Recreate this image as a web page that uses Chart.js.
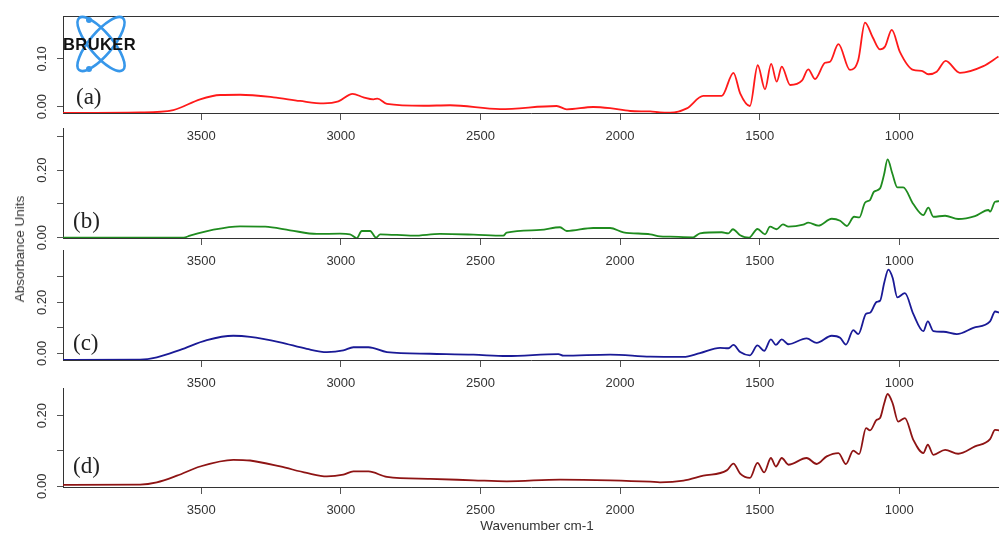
<!DOCTYPE html>
<html>
<head>
<meta charset="utf-8">
<script src="https://cdn.jsdelivr.net/npm/chart.js@4.4.0/dist/chart.umd.min.js"></script>
<style>
  body { margin: 0; background: #fff; width: 999px; height: 536px; overflow: hidden; position: relative;
         font-family: "Liberation Sans", Arial, sans-serif; }
  canvas { position: absolute; left: 0; }
  .tag { position: absolute; z-index: 5; font-family: "Liberation Serif", "Times New Roman", serif;
         font-size: 23px; line-height: 23px; color: #222; }
  .axtitle { position: absolute; z-index: 5; font-size: 13.5px; line-height: 14px; color: #333; white-space: nowrap; }
  #logo { position: absolute; left: 0; top: 0; z-index: 6; }
  #bruker { position: absolute; left: 63px; top: 36px; z-index: 7; font-weight: bold; font-size: 16.5px;
            line-height: 17px; color: #111; letter-spacing: 0.4px; }
</style>
</head>
<body>

<canvas id="panel-a" width="999" height="150" style="top:0px"></canvas>
<canvas id="panel-b" width="999" height="155" style="top:120px"></canvas>
<canvas id="panel-c" width="999" height="157" style="top:240px"></canvas>
<canvas id="panel-d" width="999" height="144" style="top:380px"></canvas>

<svg id="logo" width="140" height="80">
  <g fill="none" stroke="#3797ea" stroke-width="2.6">
    <ellipse cx="101" cy="44" rx="34" ry="11.5" transform="rotate(50 101 44)"/>
    <ellipse cx="101" cy="44" rx="34" ry="11.5" transform="rotate(-50 101 44)"/>
  </g>
  <circle cx="89" cy="20" r="3" fill="#3797ea"/>
  <circle cx="89" cy="69" r="3" fill="#3797ea"/>
</svg>
<div id="bruker">BRUKER</div>

<div class="tag" style="left:76px; top:85px">(a)</div>
<div class="tag" style="left:73px; top:209px">(b)</div>
<div class="tag" style="left:73px; top:331px">(c)</div>
<div class="tag" style="left:73px; top:454px">(d)</div>

<div class="axtitle" style="left:537px; top:519px; transform:translateX(-50%)">Wavenumber cm-1</div>
<div class="axtitle" style="left:20px; top:249px; transform:translate(-50%,-50%) rotate(-90deg)">Absorbance Units</div>

<script>
// wavenumber range shown (reversed axis, high on the left)
const wnMin = 643;
const wnMax = 3995;
const xTicks = [3500, 3000, 2500, 2000, 1500, 1000];

// y ticks per panel, and which of them get a label
const yTicksA = [0, 0.1];
const yTicksBCD = [0, 0.1, 0.2, 0.3];
const yLabelsA = [0, 0.1];
const yLabelsBCD = [0, 0.2];

// (a) red spectrum
const wnA = [4000, 3719, 3600, 3504, 3432, 3361, 3241, 3146, 3062, 3009, 2958, 2919, 2883, 2869, 2835, 2704,
             2609, 2430, 2227, 2191, 2096, 2036, 1964, 1892, 1857, 1821, 1761, 1702, 1636, 1594, 1570, 1535,
             1507, 1481, 1459, 1439, 1421, 1391, 1349, 1326, 1302, 1266, 1248, 1218, 1177, 1147, 1123, 1095,
             1069, 1051, 1027, 998, 950, 920, 896, 866, 834, 783, 699, 645];
const absA = [-0.013, -0.012, -0.007, 0.0155, 0.0245, 0.025, 0.0197, 0.012, 0.007, 0.011, 0.027, 0.0197, 0.0155, 0.017, 0.006, 0.002,
              0.003, -0.005, 0.0015, -0.0055, -0.0006, -0.003, -0.009, -0.01, -0.012, -0.0125, -0.0035, 0.0225, 0.0225, 0.071, 0.028, 0.0015,
              0.0868, 0.0365, 0.0895, 0.0524, 0.0839, 0.0455, 0.0545, 0.078, 0.058, 0.092, 0.0943, 0.131, 0.077, 0.098, 0.176, 0.145,
              0.12, 0.126, 0.161, 0.115, 0.077, 0.075, 0.068, 0.0734, 0.0958, 0.071, 0.085, 0.105];

// (b) green spectrum
const wnB = [4000, 3563, 3540, 3456, 3361, 3271, 3182, 3086, 3003, 2967, 2943, 2925, 2895, 2874, 2859, 2740,
             2645, 2525, 2418, 2406, 2286, 2215, 2191, 2096, 2036, 1988, 1892, 1857, 1821, 1738, 1714, 1636,
             1612, 1596, 1570, 1538, 1508, 1481, 1463, 1439, 1417, 1397, 1344, 1326, 1290, 1242, 1212, 1188,
             1162, 1143, 1123, 1105, 1091, 1069, 1055, 1042, 1025, 1007, 986, 950, 914, 896, 878, 836,
             789, 729, 681, 675, 657, 643];
const absB = [0, 0, 0.006, 0.0237, 0.0337, 0.0325, 0.0219, 0.011, 0.0118, 0.01, -0.0018, 0.0198, 0.0198, 0, 0.01, 0.006,
              0.011, 0.009, 0.006, 0.0148, 0.0228, 0.0308, 0.0198, 0.0287, 0.0287, 0.016, 0.01, 0.004, 0.003, 0.001, 0.013, 0.016,
              0.013, 0.025, 0.007, 0, 0.0257, 0.01, 0.0325, 0.025, 0.0396, 0.0325, 0.0385, 0.0444, 0.0355, 0.056, 0.05, 0.0346,
              0.062, 0.06, 0.1036, 0.1115, 0.136, 0.146, 0.1855, 0.232, 0.19, 0.149, 0.149, 0.0997, 0.067, 0.0888, 0.062, 0.065,
              0.0553, 0.064, 0.082, 0.077, 0.1065, 0.108];

// (c) blue spectrum
const wnC = [4000, 3719, 3659, 3575, 3480, 3385, 3325, 3217, 3122, 3050, 2991, 2955, 2901, 2835, 2680, 2525,
             2406, 2221, 2203, 2036, 1892, 1773, 1714, 1642, 1612, 1594, 1570, 1535, 1508, 1484, 1460, 1442,
             1421, 1397, 1332, 1296, 1242, 1212, 1191, 1165, 1147, 1119, 1105, 1081, 1069, 1054, 1039, 1024,
             1007, 980, 950, 914, 898, 878, 842, 794, 735, 675, 657, 643];
const absC = [-0.026, -0.0246, -0.0155, 0.014, 0.052, 0.069, 0.065, 0.0435, 0.0177, 0.005, 0.0115, 0.024, 0.024, 0.005, -0.0015, -0.005,
              -0.0104, -0.0027, -0.009, -0.005, -0.013, -0.014, 0.001, 0.0215, 0.02, 0.033, 0.005, -0.0077, 0.031, 0.01, 0.055, 0.033,
              0.055, 0.0358, 0.0588, 0.0408, 0.069, 0.0615, 0.0346, 0.091, 0.0754, 0.155, 0.159, 0.202, 0.206, 0.277, 0.328, 0.296,
              0.219, 0.236, 0.155, 0.087, 0.1254, 0.087, 0.0846, 0.0754, 0.1, 0.1254, 0.164, 0.16];

// (d) dark red spectrum
const wnD = [4000, 3719, 3659, 3587, 3504, 3385, 3325, 3217, 3122, 3050, 2991, 2955, 2901, 2835, 2680, 2525,
             2406, 2215, 2036, 1892, 1857, 1773, 1702, 1618, 1594, 1570, 1535, 1508, 1484, 1460, 1442, 1421,
             1397, 1332, 1296, 1260, 1218, 1191, 1165, 1144, 1119, 1105, 1081, 1069, 1054, 1042, 1024, 1004,
             980, 950, 914, 898, 878, 836, 789, 729, 675, 657, 643];
const absD = [0.004, 0.005, 0.0113, 0.03, 0.056, 0.075, 0.073, 0.056, 0.0377, 0.028, 0.033, 0.042, 0.042, 0.0265, 0.021, 0.017,
              0.014, 0.019, 0.017, 0.013, 0.0113, 0.016, 0.03, 0.045, 0.064, 0.036, 0.0236, 0.066, 0.0394, 0.08, 0.056, 0.08,
              0.061, 0.08, 0.063, 0.0845, 0.094, 0.063, 0.101, 0.091, 0.1645, 0.158, 0.188, 0.193, 0.235, 0.261, 0.235, 0.183,
              0.193, 0.1315, 0.094, 0.1175, 0.089, 0.103, 0.092, 0.113, 0.1335, 0.1595, 0.158];

const fontSans = '"Liberation Sans", Arial, sans-serif';

// R-style labels: rotated y tick labels, x labels under each panel, optional top frame line
const axisLabels = {
    id: 'axisLabels',
    afterDraw: function(chart, args, opts) {
        const ctx = chart.ctx;
        const xs = chart.scales.x;
        const ys = chart.scales.y;
        const area = chart.chartArea;
        ctx.save();
        ctx.font = '13px ' + fontSans;
        ctx.fillStyle = '#333';
        ctx.textAlign = 'center';
        ctx.textBaseline = 'middle';
        opts.yLabels.forEach(v => {
            const py = ys.getPixelForValue(v);
            ctx.save();
            ctx.translate(42, py);
            ctx.rotate(-Math.PI / 2);
            ctx.fillText(v.toFixed(2), 0, 0);
            ctx.restore();
        });
        xs.ticks.forEach(t => {
            ctx.fillText(String(t.value), xs.getPixelForValue(t.value), area.bottom + 23);
        });
        if (opts.topBorder) {
            ctx.strokeStyle = '#333';
            ctx.lineWidth = 1;
            ctx.beginPath();
            ctx.moveTo(area.left, Math.round(area.top) + 0.5);
            ctx.lineTo(area.right, Math.round(area.top) + 0.5);
            ctx.stroke();
        }
        ctx.restore();
    }
};

function makePanel(id, wn, ab, color, yMin, yMax, padTop, yTicks, yLabels, topBorder) {
    const pts = wn.map((w, i) => ({ x: w, y: ab[i] }));
    return new Chart(document.getElementById(id), {
        type: 'line',
        data: {
            datasets: [{
                data: pts,
                borderColor: color,
                borderWidth: 1.8,
                pointRadius: 0,
                cubicInterpolationMode: 'monotone',
                fill: false
            }]
        },
        options: {
            responsive: false,
            animation: false,
            devicePixelRatio: 1,
            events: [],
            layout: { padding: { top: padTop, right: 0, left: 0, bottom: 0 } },
            plugins: {
                legend: { display: false },
                tooltip: { enabled: false },
                axisLabels: { yLabels: yLabels, topBorder: topBorder }
            },
            scales: {
                x: {
                    type: 'linear',
                    reverse: true,
                    min: wnMin,
                    max: wnMax,
                    afterBuildTicks: s => { s.ticks = xTicks.map(v => ({ value: v })); },
                    afterFit: s => { s.height = 37; },
                    grid: { drawOnChartArea: false, tickLength: 7, color: '#555' },
                    border: { color: '#333', width: 1 },
                    ticks: { display: false }
                },
                y: {
                    type: 'linear',
                    min: yMin,
                    max: yMax,
                    afterBuildTicks: s => { s.ticks = yTicks.map(v => ({ value: v })); },
                    afterFit: s => { s.width = 63; },
                    grid: { drawOnChartArea: false, tickLength: 6, color: '#555' },
                    border: { color: '#333', width: 1 },
                    ticks: { display: false }
                }
            }
        },
        plugins: [axisLabels]
    });
}

makePanel('panel-a', wnA, absA, '#ff1a1a', -0.0132, 0.190, 16, yTicksA, yLabelsA, true);
makePanel('panel-b', wnB, absB, '#1f8c1f', -0.001, 0.325, 8, yTicksBCD, yLabelsBCD, false);
makePanel('panel-c', wnC, absC, '#1a1a96', -0.026, 0.405, 10, yTicksBCD, yLabelsBCD, false);
makePanel('panel-d', wnD, absD, '#8e1414', -0.002, 0.278, 8, yTicksBCD.slice(0, 3), yLabelsBCD, false);
</script>
</body>
</html>
